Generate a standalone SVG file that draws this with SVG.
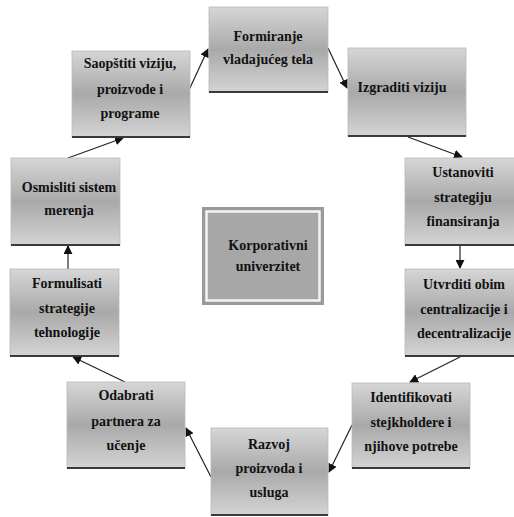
<svg xmlns="http://www.w3.org/2000/svg" width="514" height="517" viewBox="0 0 514 517">
  <style>
    .box { fill: url(#boxGrad); stroke: #b8b8b8; stroke-width: 0.8; }
    .edge { stroke: #3a3a3a; stroke-width: 2.2; }
    .lbl { font-family: "Liberation Serif", "Times New Roman", serif; font-weight: bold; font-size: 14px; fill: #111; text-anchor: middle; }
    .conn { stroke: #222; stroke-width: 1.2; fill: none; marker-end: url(#arrow); }
  </style>
  <defs>
    <linearGradient id="boxGrad" x1="0" y1="0" x2="0" y2="1">
      <stop offset="0" stop-color="#d6d6d6"/>
      <stop offset="0.5" stop-color="#a9a9a9"/>
      <stop offset="1" stop-color="#d4d4d4"/>
    </linearGradient>
    <marker id="arrow" viewBox="0 0 10 10" refX="9" refY="5" markerWidth="9" markerHeight="9" markerUnits="userSpaceOnUse" orient="auto">
      <path d="M0,0 L10,5 L0,10 z" fill="#111"/>
    </marker>
  </defs>
  <rect width="514" height="517" fill="#ffffff"/>

  <g id="connectors">
    <line class="conn" x1="189" y1="90" x2="208" y2="49"/>
    <line class="conn" x1="328" y1="48" x2="347" y2="88"/>
    <line class="conn" x1="408" y1="137" x2="462" y2="157"/>
    <line class="conn" x1="460" y1="246" x2="460" y2="268"/>
    <line class="conn" x1="460" y1="357" x2="410" y2="382"/>
    <line class="conn" x1="352" y1="425" x2="329" y2="472"/>
    <line class="conn" x1="211" y1="477" x2="186" y2="428"/>
    <line class="conn" x1="125" y1="382" x2="73" y2="357"/>
    <line class="conn" x1="68" y1="269" x2="68" y2="246"/>
    <line class="conn" x1="68" y1="158" x2="123" y2="138"/>
  </g>

  <g id="formiranje">
    <rect class="box" x="209" y="7" width="119" height="85"/>
    <line class="edge" x1="209" y1="92" x2="328" y2="92"/>
    <text class="lbl" x="268" y="41">Formiranje</text>
    <text class="lbl" x="268" y="64">vladajućeg tela</text>
  </g>

  <g id="izgraditi">
    <rect class="box" x="348" y="48" width="118" height="88"/>
    <line class="edge" x1="348" y1="136" x2="466" y2="136"/>
    <text class="lbl" x="402" y="92">Izgraditi viziju</text>
  </g>

  <g id="ustanoviti">
    <rect class="box" x="405" y="158" width="111" height="87"/>
    <line class="edge" x1="405" y1="245" x2="516" y2="245"/>
    <text class="lbl" x="463" y="177">Ustanoviti</text>
    <text class="lbl" x="463" y="202">strategiju</text>
    <text class="lbl" x="463" y="226">finansiranja</text>
  </g>

  <g id="utvrditi">
    <rect class="box" x="405" y="269" width="111" height="87"/>
    <line class="edge" x1="405" y1="356" x2="516" y2="356"/>
    <text class="lbl" x="464" y="289">Utvrditi obim</text>
    <text class="lbl" x="464" y="314">centralizacije i</text>
    <text class="lbl" x="464" y="338">decentralizacije</text>
  </g>

  <g id="identifikovati">
    <rect class="box" x="352" y="383" width="118" height="85"/>
    <line class="edge" x1="352" y1="468" x2="470" y2="468"/>
    <text class="lbl" x="411" y="402">Identifikovati</text>
    <text class="lbl" x="411" y="427">stejkholdere i</text>
    <text class="lbl" x="411" y="451">njihove potrebe</text>
  </g>

  <g id="razvoj">
    <rect class="box" x="211" y="428" width="117" height="87"/>
    <line class="edge" x1="211" y1="515" x2="328" y2="515"/>
    <text class="lbl" x="269" y="449">Razvoj</text>
    <text class="lbl" x="269" y="473">proizvoda i</text>
    <text class="lbl" x="269" y="497">usluga</text>
  </g>

  <g id="odabrati">
    <rect class="box" x="67" y="382" width="118" height="86"/>
    <line class="edge" x1="67" y1="468" x2="185" y2="468"/>
    <text class="lbl" x="126" y="400">Odabrati</text>
    <text class="lbl" x="126" y="426">partnera za</text>
    <text class="lbl" x="126" y="450">učenje</text>
  </g>

  <g id="formulisati">
    <rect class="box" x="10" y="269" width="109" height="87"/>
    <line class="edge" x1="10" y1="356" x2="119" y2="356"/>
    <text class="lbl" x="67" y="288">Formulisati</text>
    <text class="lbl" x="67" y="313">strategije</text>
    <text class="lbl" x="67" y="337">tehnologije</text>
  </g>

  <g id="osmisliti">
    <rect class="box" x="11" y="158" width="109" height="87"/>
    <line class="edge" x1="11" y1="245" x2="120" y2="245"/>
    <text class="lbl" x="69" y="192">Osmisliti sistem</text>
    <text class="lbl" x="69" y="215">merenja</text>
  </g>

  <g id="saopstiti">
    <rect class="box" x="72" y="51" width="118" height="86"/>
    <line class="edge" x1="72" y1="137" x2="190" y2="137"/>
    <text class="lbl" x="130" y="68">Saopštiti viziju,</text>
    <text class="lbl" x="130" y="94">proizvode i</text>
    <text class="lbl" x="130" y="118">programe</text>
  </g>

  <g id="korporativni">
    <rect x="202" y="207" width="122" height="98" fill="#9a9a9a"/>
    <rect x="206.5" y="211.5" width="113" height="89" fill="#a7a7a7" stroke="#f4f4f4" stroke-width="2.5"/>
    <text class="lbl" x="268" y="250">Korporativni</text>
    <text class="lbl" x="268" y="271">univerzitet</text>
  </g>
</svg>
